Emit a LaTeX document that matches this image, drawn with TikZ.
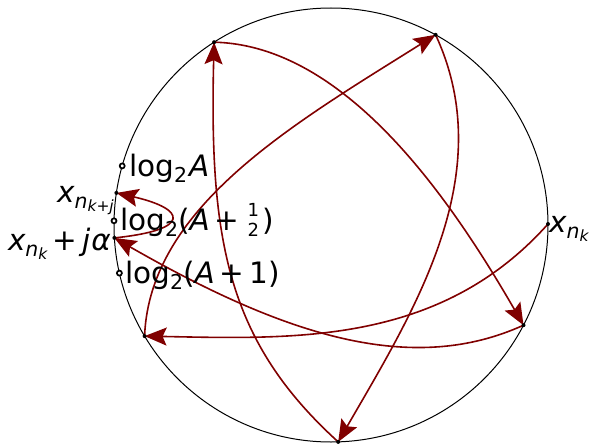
\documentclass[tikz,border=0pt]{standalone}
\usepackage{fontspec}
\setmainfont{DejaVu Sans}
\usetikzlibrary{arrows.meta}
\definecolor{mred}{HTML}{800000}
\newcommand\msub[1]{\raisebox{-6pt}{\fontsize{20.5}{21}\selectfont #1}}
\newcommand\mssub[1]{\raisebox{-3pt}{\fontsize{15.5}{16}\selectfont #1}}
\newcommand\mhalf{{\fontsize{18}{18}\selectfont\kern3pt\rlap{\raisebox{14pt}{1}}\raisebox{-6pt}{2}\kern3pt}}
\newcommand\mplus{\kern5pt+\kern5pt}
\begin{document}
\begin{tikzpicture}[x=1pt,y=-1pt,
  curve/.style={mred, line width=1.6pt, -{Stealth[length=22pt,width=18pt,inset=4pt]}},
  dotpt/.style={circle, fill=black, inner sep=0pt, minimum size=4pt},
  ringpt/.style={circle, draw=black, fill=white, line width=1.7pt, inner sep=0pt, minimum size=5pt},
  lab/.style={inner sep=0pt, font=\fontsize{29.5}{31}\selectfont}]
\useasboundingbox (0,0) rectangle (592,444);
\draw[line width=1pt] (331,225) circle[radius=217pt];
\coordinate (X0) at (548,224);
\coordinate (P1) at (144.6,336.1);
\coordinate (P2) at (435.6,34.8);
\coordinate (P3) at (338.2,441.9);
\coordinate (P4) at (214.1,42.2);
\coordinate (P5) at (523.5,325.2);
\coordinate (P6) at (114.4,237.9);
\coordinate (P7) at (116.4,192.9);
\draw[curve] (X0) .. controls +(-108,121) and +(150,3) .. (P1);
\draw[curve] (P1) .. controls +(5,-130) and +(-140,88) .. (P2);
\draw[curve] (P2) .. controls +(65,140) and +(75,-130) .. (P3);
\draw[curve] (P3) .. controls +(-110,-100) and +(-5,200) .. (P4);
\draw[curve] (P4) .. controls +(130,3) and +(-75,-130) .. (P5);
\draw[curve] (P5) .. controls +(-110,50) and +(174,100) .. (P6);
\draw[curve] (P6) .. controls +(78,-8) and +(70,16) .. (P7);
\foreach \p in {X0,P1,P2,P3,P4,P5,P6,P7} \node[dotpt] at (\p) {};
\node[ringpt] (L1) at (122.2,165.9) {};
\node[ringpt] (L2) at (114.0,220.8) {};
\node[ringpt] (L3) at (119.4,273.1) {};
\node[lab, anchor=base west] (t1) at (129,176) {log\msub{2}\kern2pt{\itshape A}};
\node[lab, anchor=base west] (t2) at (120,230) {log\msub{2}({\itshape A}\mplus\mhalf)};
\node[lab, anchor=base west] (t3) at (125,283) {log\msub{2}({\itshape A}\mplus1)};
\node[lab, anchor=base east] (t4) at (114,202) {{\itshape x}\msub{\itshape n\mssub{k\upshape+\itshape j}}};
\node[lab, anchor=base east] (t5) at (111,250) {{\itshape x}\msub{\itshape n\mssub{k}}\mplus{\itshape j\kern1pt α}};
\node[lab, anchor=base west] (t6) at (549,232) {{\itshape x}\msub{\itshape n\mssub{k}}};
\end{tikzpicture}
\end{document}
